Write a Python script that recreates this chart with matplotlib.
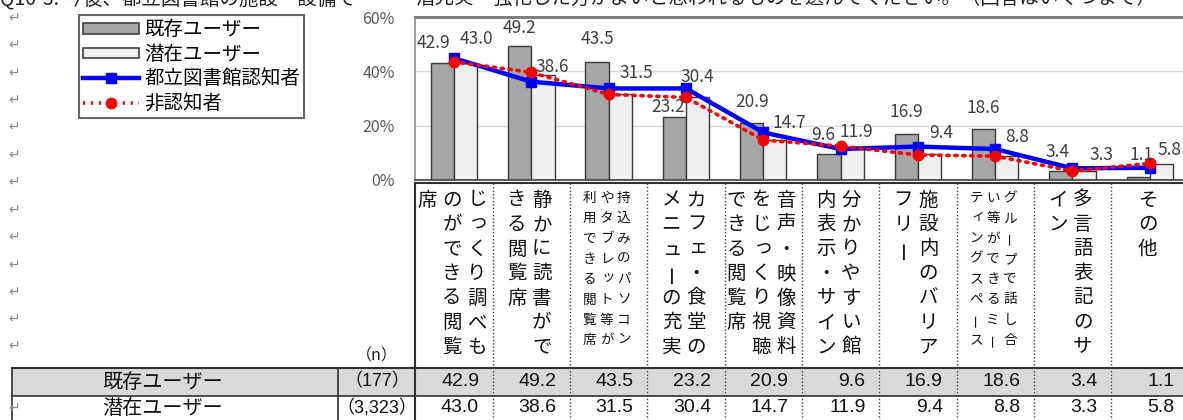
import matplotlib
matplotlib.use("Agg")
import matplotlib.pyplot as plt
import matplotlib.transforms as mtransforms
from matplotlib import font_manager
from matplotlib.patches import Patch, Rectangle
from matplotlib.lines import Line2D
import numpy as np

# ---------------- data ----------------
categories = [
    "じっくり調べものができる閲覧席",
    "静かに読書ができる閲覧席",
    "持込みのパソコンやタブレット等が利用できる閲覧席",
    "カフェ・食堂のメニューの充実",
    "音声・映像資料をじっくり視聴できる閲覧席",
    "分かりやすい館内表示・サイン",
    "施設内のバリアフリー",
    "グループで話し合い等ができるミーティングスペース",
    "多言語表記のサイン",
    "その他",
]
existing_users = [42.9, 49.2, 43.5, 23.2, 20.9, 9.6, 16.9, 18.6, 3.4, 1.1]
potential_users = [43.0, 38.6, 31.5, 30.4, 14.7, 11.9, 9.4, 8.8, 3.3, 5.8]
aware = [44.8, 36.2, 33.7, 33.7, 17.5, 11.4, 12.3, 11.4, 4.3, 4.5]
non_aware = [43.5, 39.6, 31.5, 30.4, 14.7, 12.5, 9.2, 8.8, 3.3, 6.1]
series_names = ["既存ユーザー", "潜在ユーザー", "都立図書館認知者", "非認知者"]
row_names = ["既存ユーザー", "潜在ユーザー"]
n_labels = ["（177）", "（3,323）"]
y_ticks = [0, 20, 40, 60]
y_tick_labels = ["0%", "20%", "40%", "60%"]
title_left = "Q10-3. 今後、都立図書館の施設・設備で"
title_right = "潜充実・強化した方がよいと思われるものを選んでください。（回答はいくつまで）"

# label offsets in pixels (dx, dy above bar top) - styling only
dark_lbl_off = [(-9, 20), (0, 18), (0, 23), (-6, 10), (0, 21), (-6, 19), (0, 22), (0, 21), (-3, 19), (3, 22)]
light_lbl_off = [(11, 24), (9, 8), (16, 21), (0, 20), (15, 17), (4, 16), (12, 21), (10, 19), (17, 16), (8, 14)]

# ---------------- fonts ----------------
plt.rcParams["font.family"] = ["Noto Sans CJK JP", "DejaVu Sans"]
names = {f.name for f in font_manager.fontManager.ttflist}
narrow = "Liberation Sans Narrow" if "Liberation Sans Narrow" in names else "Liberation Sans"

W, H = 1183, 420
fig = plt.figure(figsize=(W / 100, H / 100), dpi=100)

# overlay axes in pixel coordinates for decorations
ov = fig.add_axes([0, 0, 1, 1])
ov.set_xlim(0, W)
ov.set_ylim(H, 0)
ov.axis("off")
ov.patch.set_alpha(0)

# main chart axes
L, R, T, B = 415.4, 1188.4, 17, 180
ax = fig.add_axes([L / W, (H - B) / H, (R - L) / W, (B - T) / H])
ax.patch.set_alpha(0)
n = len(categories)
x = np.arange(n)
ax.set_xlim(-0.5, n - 0.5)
ax.set_ylim(0, 60)

bw = 0.30
ax.bar(x - bw / 2, existing_users, width=bw, color="#a6a6a6", edgecolor="#3a3a3a", linewidth=1.0, zorder=2)
ax.bar(x + bw / 2, potential_users, width=bw, color="#efefef", edgecolor="#3a3a3a", linewidth=1.0, zorder=2)
ax.plot(x, aware, color="#0000ff", lw=3.2, marker="s", ms=6.5, zorder=4)
ax.plot(x, non_aware, color="#ff0000", lw=2.6, ls=(0, (0.6, 1.6)), dash_capstyle="round",
        marker="o", ms=7.5, zorder=5)

for i in range(n):
    dx, dy = dark_lbl_off[i]
    ax.annotate(f"{existing_users[i]:.1f}", xy=(x[i] - bw / 2, existing_users[i]), xytext=(dx, dy),
                textcoords="offset pixels", ha="center", va="center", fontsize=12.5, color="#404040", zorder=6)
    dx, dy = light_lbl_off[i]
    ax.annotate(f"{potential_users[i]:.1f}", xy=(x[i] + bw / 2, potential_users[i]), xytext=(dx, dy),
                textcoords="offset pixels", ha="center", va="center", fontsize=12.5, color="#404040", zorder=6)

ax.set_yticks(y_ticks)
ax.set_yticklabels(y_tick_labels, fontsize=11.5, color="#595959")
ax.set_xticks([])
ax.tick_params(axis="y", length=0, pad=15)
ax.yaxis.grid(True, color="#d9d9d9", lw=1.0)
ax.set_axisbelow(True)
ax.spines["top"].set_color("#7f7f7f")
ax.spines["top"].set_linewidth(2.2)
ax.spines["left"].set_color("#8c8c8c")
ax.spines["left"].set_linewidth(1.2)
ax.spines["bottom"].set_color("#404040")
ax.spines["bottom"].set_linewidth(1.2)
ax.spines["right"].set_visible(False)

# legend
handles = [
    Patch(facecolor="#a6a6a6", edgecolor="#404040", linewidth=1.2),
    Patch(facecolor="#efefef", edgecolor="#404040", linewidth=1.2),
    Line2D([], [], color="#0000ff", lw=3.2, marker="s", ms=6.5),
    Line2D([], [], color="#ff0000", lw=2.6, ls=(0, (0.6, 1.6)), marker="o", ms=7.5),
]
leg = ax.legend(handles, series_names, loc="upper left", bbox_to_anchor=(79 / W, 1 - 15 / H),
                bbox_transform=fig.transFigure, fontsize=14, frameon=True, fancybox=False,
                borderaxespad=0, handlelength=2.85, handleheight=0.45, handletextpad=0.28,
                labelspacing=0.18, borderpad=0.22, numpoints=1)
leg.get_frame().set_edgecolor("#404040")
leg.get_frame().set_linewidth(1.5)

# title (cut at the top of the page, as in the source)
fig.text(0, 1 + 1 / H, title_left, fontsize=14, va="center", ha="left", color="#222222")
fig.text(415 / W, 1 + 1 / H, title_right, fontsize=14, va="center", ha="left", color="#222222")

# page paragraph marks
for yy in [18, 45, 73, 100, 127, 155, 182, 210, 237, 265, 292, 319, 346, 408]:
    ov.text(14, yy, "↵", fontsize=10, color="#8a8a8a", ha="center", va="center", family="DejaVu Sans")

# ---------------- category labels & table ----------------
bt = mtransforms.blended_transform_factory(ax.transData, ov.transData)
line_c = "#303030"
ov.plot([415, W], [183, 183], color=line_c, lw=1.5)
ov.plot([415, 415], [183, H], color=line_c, lw=1.5)
ov.add_patch(Rectangle((12, 368), W - 12, 28, facecolor="#d9d9d9", edgecolor="none", zorder=0))
ov.plot([12, W], [368, 368], color=line_c, lw=1.5)
ov.plot([12, W], [396, 396], color=line_c, lw=1.2)
ov.plot([12, 12], [368, H], color=line_c, lw=1.2)
ov.plot([338, 338], [368, H], color=line_c, lw=1.2)
for i in range(n - 1):
    ov.plot([i + 0.5, i + 0.5], [183, H], color="#404040", lw=1.0, ls=(0, (1, 1.5)), transform=bt)

for i, lab in enumerate(categories):
    small = len(lab) > 21
    per = 8 if small else 7
    fs = 9.8 if small else 14
    colsp = 17 if small else 25
    y0 = 198 if small else 200
    ystep = 20.3 if small else 24.5
    cols = [lab[k:k + per] for k in range(0, len(lab), per)]
    nc = len(cols)
    for j, col in enumerate(cols):
        dxp = ((nc - 1) / 2 - j) * colsp - 2
        tr = mtransforms.offset_copy(bt, fig=fig, x=dxp, y=0, units="dots")
        for r, ch in enumerate(col):
            rot = 0
            ox, oy = 0, 0
            if ch == "ー":
                rot = 90
            if ch in "っッィェ":
                ox, oy = 2, 2
            ax_t = mtransforms.offset_copy(tr, fig=fig, x=ox, y=oy, units="dots")
            ov.text(i, y0 + r * ystep, ch, transform=ax_t, fontsize=fs, ha="center", va="center",
                    rotation=rot, rotation_mode="anchor", color="#111111")

ov.text(377, 356, "（n）", fontsize=11.5, ha="center", va="center", color="#222222")
for r, (name, nl, vals) in enumerate(zip(row_names, n_labels, [existing_users, potential_users])):
    yy = 382 + r * 26
    ov.text(163, yy, name, fontsize=14.5, ha="center", va="center", color="#111111")
    ov.text(377, yy, nl, fontsize=13, ha="center", va="center", color="#111111",
            family=[narrow, "Noto Sans CJK JP"])
    for i, v in enumerate(vals):
        tr = mtransforms.offset_copy(bt, fig=fig, x=25, y=0, units="dots")
        ov.text(i, yy, f"{v:.1f}", transform=tr, fontsize=14, ha="right", va="center",
                color="#111111", family=[narrow, "DejaVu Sans"])

fig.savefig("out.png", dpi=100)
